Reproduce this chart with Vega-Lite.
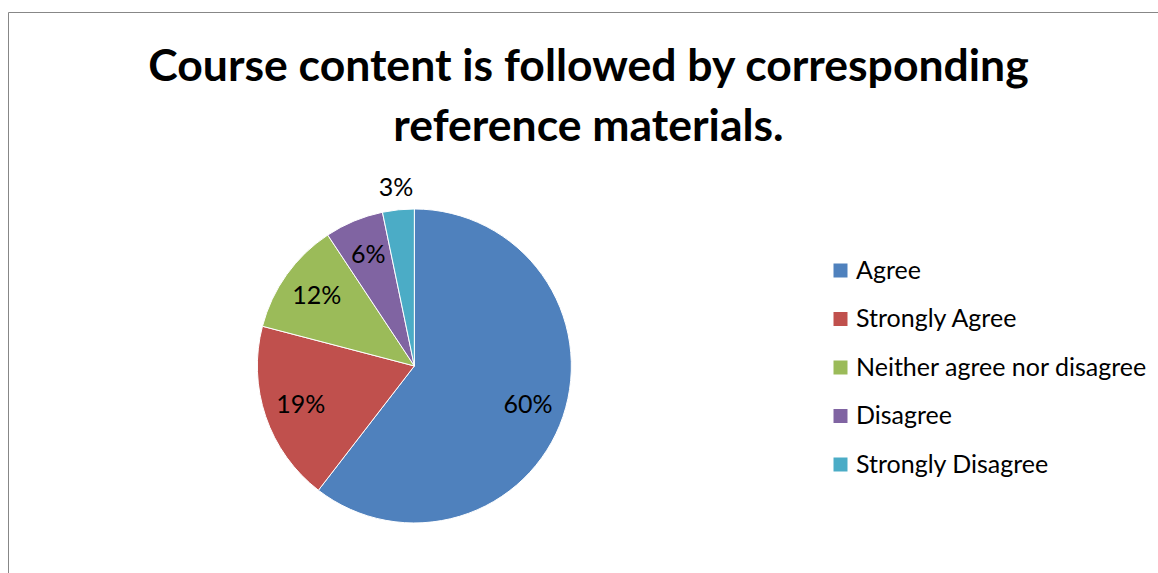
{
  "$schema": "https://vega.github.io/schema/vega-lite/v6.json",
  "width": 1161,
  "height": 570,
  "autosize": {"type": "none"},
  "padding": {"left": 8, "top": 12, "right": 0, "bottom": 0},
  "background": "white",
  "config": {
    "view": {"stroke": "#878787", "strokeWidth": 1},
    "font": "Lato"
  },
  "title": {
    "text": ["Course content is followed by corresponding", "reference materials."],
    "fontSize": 44.5,
    "fontWeight": "bold",
    "font": "Lato",
    "color": "#000000",
    "anchor": "middle",
    "frame": "group",
    "orient": "top",
    "offset": -138,
    "lineHeight": 60
  },
  "data": {
    "values": [
      {"category": "Agree", "count": 130, "label": "60%"},
      {"category": "Strongly Agree", "count": 40, "label": "19%"},
      {"category": "Neither agree nor disagree", "count": 25, "label": "12%"},
      {"category": "Disagree", "count": 13, "label": "6%"},
      {"category": "Strongly Disagree", "count": 7, "label": "3%"}
    ]
  },
  "encoding": {
    "theta": {"field": "count", "type": "quantitative", "stack": true},
    "order": {"field": "count", "sort": "descending"},
    "x": {"datum": 0.35, "type": "quantitative", "scale": {"domain": [0, 1]}, "axis": null},
    "y": {"datum": 0.379, "type": "quantitative", "scale": {"domain": [0, 1]}, "axis": null}
  },
  "layer": [
    {
      "mark": {"type": "arc", "outerRadius": 157, "stroke": "#ffffff", "strokeWidth": 1},
      "encoding": {
        "color": {
          "field": "category",
          "type": "nominal",
          "scale": {
            "domain": ["Agree", "Strongly Agree", "Neither agree nor disagree", "Disagree", "Strongly Disagree"],
            "range": ["#4F81BD", "#C0504D", "#9BBB59", "#8064A2", "#4BACC6"]
          },
          "legend": {
            "orient": "none",
            "legendX": 820,
            "legendY": 246,
            "title": null,
            "symbolType": "square",
            "symbolSize": 196,
            "symbolStrokeWidth": 0,
            "labelFontSize": 25,
            "labelFont": "Lato",
            "labelColor": "#000000",
            "labelOffset": 3,
            "rowPadding": 22.5,
            "padding": 0,
            "labelLimit": 400
          }
        }
      }
    },
    {
      "mark": {"type": "text", "radius": 120, "fontSize": 25, "font": "Lato", "color": "#000000"},
      "encoding": {
        "detail": {"field": "category", "type": "nominal"},
        "text": {"condition": {"test": "datum.category !== 'Strongly Disagree'", "field": "label"}, "value": ""}
      }
    },
    {
      "mark": {"type": "text", "radius": 179, "fontSize": 25, "font": "Lato", "color": "#000000"},
      "encoding": {
        "detail": {"field": "category", "type": "nominal"},
        "text": {"condition": {"test": "datum.category === 'Strongly Disagree'", "field": "label"}, "value": ""}
      }
    }
  ]
}
